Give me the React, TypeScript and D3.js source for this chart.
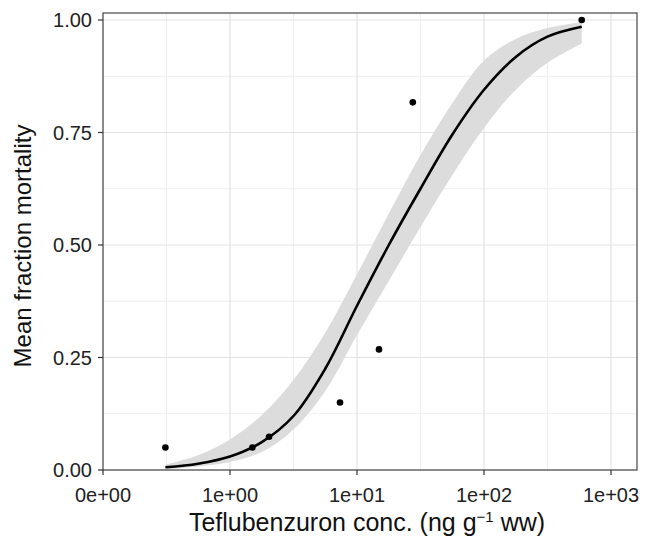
import * as d3 from "d3";

const W = 649;
const H = 537;
const PANEL = { left: 103, right: 637, top: 13, bottom: 470 };

// observed points
const obsConc = [0.31, 1.5, 2.03, 7.35, 14.9, 27.5, 588];
const obsMort = [0.05, 0.05, 0.074, 0.15, 0.268, 0.817, 1.0];

// fitted curve + confidence band
const fitConc = [0.31, 0.56, 1, 1.78, 3.16, 5.62, 10, 17.8, 31.6, 56.2, 100, 178, 316, 588];
const fitMort = [0.006, 0.014, 0.03, 0.062, 0.12, 0.225, 0.365, 0.5, 0.625, 0.745, 0.845, 0.918, 0.963, 0.985];
const fitLower = [0.002, 0.008, 0.018, 0.04, 0.09, 0.175, 0.3, 0.42, 0.54, 0.655, 0.76, 0.845, 0.905, 0.948];
const fitUpper = [0.012, 0.033, 0.068, 0.122, 0.2, 0.305, 0.435, 0.57, 0.7, 0.815, 0.91, 0.958, 0.982, 0.995];

const xTicks = [0.1, 1, 10, 100, 1000];
const xTickLabels = ["0e+00", "1e+00", "1e+01", "1e+02", "1e+03"];
const xMinor = [0.316, 3.16, 31.6, 316];
const yTicks = [0, 0.25, 0.5, 0.75, 1];
const yTickLabels = ["0.00", "0.25", "0.50", "0.75", "1.00"];
const yMinor = [0.125, 0.375, 0.625, 0.875];

const FONT = "'Liberation Sans', Arial, Helvetica, sans-serif";

export default function App() {
  // tick positions fix the scale; the panel runs past 1e+03
  const x = d3.scaleLog().domain([0.1, 1000]).range([PANEL.left, 611]);
  const y = d3.scaleLinear().domain([0, 1]).range([PANEL.bottom, 20]);

  const fit = fitConc.map((c, i) => ({ c, m: fitMort[i], lo: fitLower[i], hi: fitUpper[i] }));

  const band = d3
    .area<any>()
    .x((d) => x(d.c))
    .y0((d) => y(d.lo))
    .y1((d) => y(d.hi))
    .curve(d3.curveCatmullRom)(fit);

  const line = d3
    .line<any>()
    .x((d) => x(d.c))
    .y((d) => y(d.m))
    .curve(d3.curveCatmullRom)(fit);

  return (
    <div style={{ position: "fixed", left: 0, top: 0 }}>
      <svg width={W} height={H} style={{ display: "block", background: "white" }}>
        <rect x={0} y={0} width={W} height={H} fill="white" />
        {/* grid */}
        {yMinor.map((v) => (
          <line key={"ym" + v} x1={PANEL.left} x2={PANEL.right} y1={y(v)} y2={y(v)} stroke="#eeeeee" strokeWidth={1} />
        ))}
        {xMinor.map((v) => (
          <line key={"xm" + v} x1={x(v)} x2={x(v)} y1={PANEL.top} y2={PANEL.bottom} stroke="#eeeeee" strokeWidth={1} />
        ))}
        {yTicks.map((v) => (
          <line key={"yg" + v} x1={PANEL.left} x2={PANEL.right} y1={y(v)} y2={y(v)} stroke="#e3e3e3" strokeWidth={1.2} />
        ))}
        {xTicks.map((v) => (
          <line key={"xg" + v} x1={x(v)} x2={x(v)} y1={PANEL.top} y2={PANEL.bottom} stroke="#e3e3e3" strokeWidth={1.2} />
        ))}

        <path d={band || ""} fill="#dcdcdc" />
        <path d={line || ""} fill="none" stroke="#000" strokeWidth={2.6} />

        {obsConc.map((c, i) => (
          <circle key={i} cx={x(c)} cy={y(obsMort[i])} r={3.3} fill="#000" />
        ))}

        {/* panel border */}
        <rect
          x={PANEL.left}
          y={PANEL.top}
          width={PANEL.right - PANEL.left}
          height={PANEL.bottom - PANEL.top}
          fill="none"
          stroke="#555"
          strokeWidth={1.3}
        />

        {/* y axis */}
        {yTicks.map((v, i) => (
          <g key={"yt" + v}>
            <line x1={PANEL.left - 5} x2={PANEL.left} y1={y(v)} y2={y(v)} stroke="#333" strokeWidth={1.2} />
            <text
              x={PANEL.left - 11}
              y={y(v)}
              textAnchor="end"
              dominantBaseline="central"
              fontSize={20}
              fontFamily={FONT}
              fill="#222"
            >
              {yTickLabels[i]}
            </text>
          </g>
        ))}

        {/* x axis */}
        {xTicks.map((v, i) => (
          <g key={"xt" + v}>
            <line x1={x(v)} x2={x(v)} y1={PANEL.bottom} y2={PANEL.bottom + 5} stroke="#333" strokeWidth={1.2} />
            <text x={x(v)} y={502} textAnchor="middle" fontSize={20} fontFamily={FONT} fill="#222">
              {xTickLabels[i]}
            </text>
          </g>
        ))}

        <text x={367} y={531} textAnchor="middle" fontSize={25} fontFamily={FONT} fill="#111">
          Teflubenzuron conc. (ng g
          <tspan dy={-9} fontSize={15}>−1</tspan>
          <tspan dy={9}> ww)</tspan>
        </text>

        <text
          transform={`translate(31, 246) rotate(-90)`}
          textAnchor="middle"
          fontSize={24}
          fontFamily={FONT}
          fill="#111"
        >
          Mean fraction mortality
        </text>
      </svg>
    </div>
  );
}
